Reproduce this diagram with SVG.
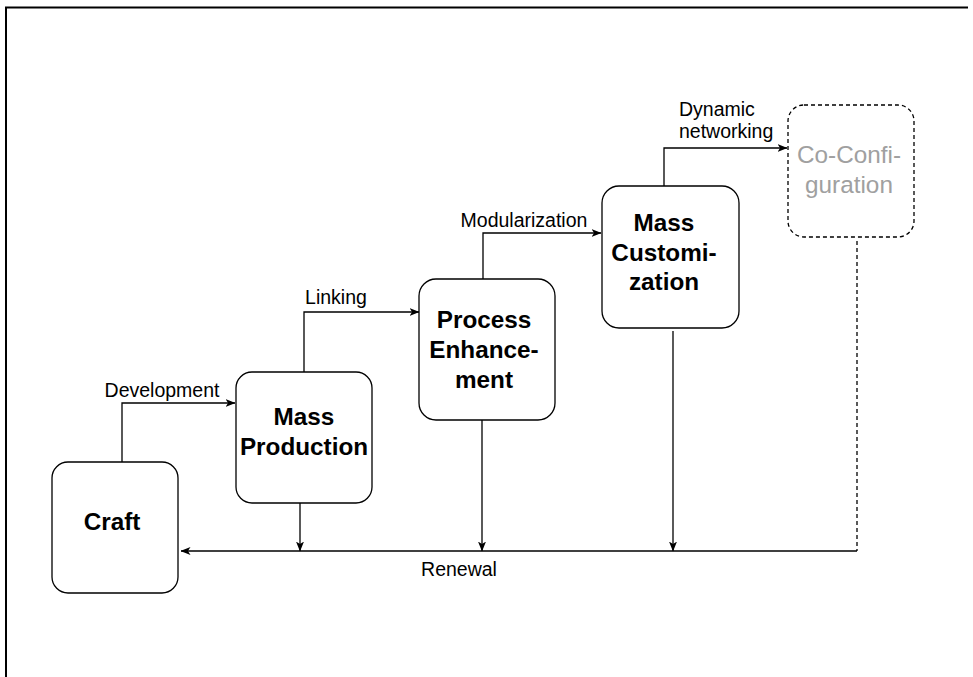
<svg xmlns="http://www.w3.org/2000/svg" width="973" height="677" viewBox="0 0 973 677">
  <defs>
    <style>
      .box { fill: #ffffff; stroke: #000000; stroke-width: 1.3; }
      .dashed { fill: #ffffff; stroke: #000000; stroke-width: 1.3; stroke-dasharray: 4 3; }
      .edge { fill: none; stroke: #000000; stroke-width: 1.3; }
      .edge-dash { fill: none; stroke: #000000; stroke-width: 1.3; stroke-dasharray: 4 3; }
      .title { font-family: "Liberation Sans", Arial, sans-serif; font-size: 24.3px; font-weight: bold; fill: #000000; text-anchor: middle; }
      .faded { font-family: "Liberation Sans", Arial, sans-serif; font-size: 24.3px; fill: #a0a0a0; text-anchor: middle; }
      .label { font-family: "Liberation Sans", Arial, sans-serif; font-size: 19.5px; fill: #000000; }
    </style>
    <marker id="arrow" viewBox="0 0 10 8" refX="9.5" refY="4" markerWidth="10" markerHeight="8" markerUnits="userSpaceOnUse" orient="auto">
      <path d="M0,0 L10,4 L0,8 L2.6,4 Z" fill="#000000"/>
    </marker>
  </defs>

  <!-- frame -->
  <path d="M6,677 L6,7.5 L968,7.5" fill="none" stroke="#000000" stroke-width="2"/>

  <!-- connectors -->
  <g id="connectors">
    <path class="edge" d="M122,462 L122,403 L235,403" marker-end="url(#arrow)"/>
    <path class="edge" d="M304,372 L304,312 L419,312" marker-end="url(#arrow)"/>
    <path class="edge" d="M483,279 L483,233 L601,233" marker-end="url(#arrow)"/>
    <path class="edge" d="M664,186 L664,148 L787,148" marker-end="url(#arrow)"/>

    <path class="edge-dash" d="M857,241 L857,551"/>
    <path class="edge" d="M857,551 L181,551" marker-end="url(#arrow)"/>
    <path class="edge" d="M300,503 L300,551" marker-end="url(#arrow)"/>
    <path class="edge" d="M482,420 L482,551" marker-end="url(#arrow)"/>
    <path class="edge" d="M673,331 L673,551" marker-end="url(#arrow)"/>

    <text class="label" x="162" y="397" text-anchor="middle">Development</text>
    <text class="label" x="336" y="304" text-anchor="middle">Linking</text>
    <text class="label" x="524" y="227" text-anchor="middle">Modularization</text>
    <text class="label" x="679" y="116">Dynamic</text>
    <text class="label" x="679" y="138">networking</text>
    <text class="label" x="459" y="576" text-anchor="middle">Renewal</text>
  </g>

  <!-- nodes -->
  <g id="craft">
    <rect class="box" x="52" y="462" width="126" height="131" rx="16" ry="16"/>
    <text class="title" x="112" y="530">Craft</text>
  </g>

  <g id="mass-production">
    <rect class="box" x="236" y="372" width="136" height="131" rx="16" ry="16"/>
    <text class="title" x="304" y="425">Mass</text>
    <text class="title" x="304" y="455">Production</text>
  </g>

  <g id="process-enhancement">
    <rect class="box" x="419" y="279" width="136" height="141" rx="17" ry="17"/>
    <text class="title" x="484" y="328">Process</text>
    <text class="title" x="484" y="358">Enhance-</text>
    <text class="title" x="484" y="388">ment</text>
  </g>

  <g id="mass-customization">
    <rect class="box" x="602" y="186" width="137" height="142" rx="17" ry="17"/>
    <text class="title" x="664" y="231">Mass</text>
    <text class="title" x="664" y="261">Customi-</text>
    <text class="title" x="664" y="290">zation</text>
  </g>

  <g id="co-configuration">
    <rect class="dashed" x="788" y="105" width="126" height="132" rx="16" ry="16"/>
    <text class="faded" x="849" y="163">Co-Confi-</text>
    <text class="faded" x="849" y="193">guration</text>
  </g>
</svg>
